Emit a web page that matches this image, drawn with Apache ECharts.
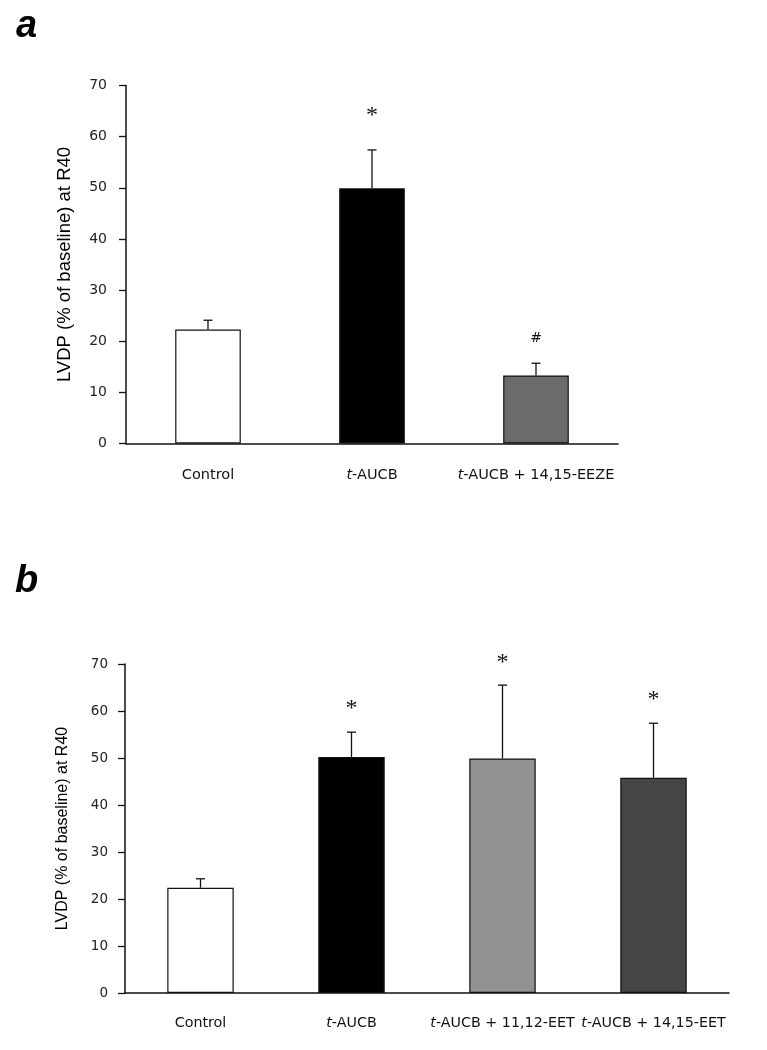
<!DOCTYPE html>
<html>
<head>
<meta charset="utf-8">
<script src="https://cdn.jsdelivr.net/npm/echarts@6/dist/echarts.min.js"></script>
<style>
html,body{margin:0;padding:0;background:#fff;}
#chart{width:767px;height:1050px;}
</style>
</head>
<body>
<div id="chart"></div>
<script>
// ---------- Data ----------
const yTickStep = 10;
const yMin = 0;
const yMax = 70;

// Panel a
const catsA = ['Control', 't-AUCB', 't-AUCB + 14,15-EEZE'];
const meanA = [22.3, 49.9, 13.3];
const errA  = [1.8, 7.5, 2.4];
const sigA  = ['', '*', '#'];
const sigYA = [null, 64.8, 20.6];

// Panel b
const catsB = ['Control', 't-AUCB', 't-AUCB + 11,12-EET', 't-AUCB + 14,15-EET'];
const meanB = [22.4, 50.2, 49.9, 45.8];
const errB  = [1.9, 5.3, 15.6, 11.6];
const sigB  = ['', '*', '*', '*'];
const sigYB = [null, 61.4, 71.2, 63.3];

// ---------- Styles ----------
const colorsA = ['#ffffff', '#000000', '#6b6b6b'];
const colorsB = ['#ffffff', '#000000', '#929292', '#454545'];
const labelFont = 'DejaVu Sans';
const titleFont = 'Liberation Sans';

function catFormatter(v) {
  if (v.indexOf('t-') === 0) return '{i|t}{n|' + v.slice(1) + '}';
  return '{n|' + v + '}';
}
function richFor(size) {
  return {
    i: {fontFamily: labelFont, fontStyle: 'italic', fontSize: size, color: '#111'},
    n: {fontFamily: labelFont, fontSize: size, color: '#111'}
  };
}

function xAxisFor(gridIndex, cats, fontSize, margin) {
  return {
    type: 'category', gridIndex: gridIndex, data: cats,
    axisLine: {lineStyle: {color: '#111', width: 1.5}},
    axisTick: {show: false},
    axisLabel: {interval: 0, margin: margin, formatter: catFormatter, rich: richFor(fontSize)},
    splitLine: {show: false}
  };
}
function yAxisFor(gridIndex, fontSize, margin, nameSize, nameGap) {
  return {
    type: 'value', gridIndex: gridIndex, min: yMin, max: yMax, interval: yTickStep,
    name: 'LVDP (% of baseline) at R40', nameLocation: 'middle', nameGap: nameGap,
    nameTextStyle: {fontFamily: titleFont, fontSize: nameSize, color: '#000'},
    axisLine: {show: true, lineStyle: {color: '#111', width: 1.5}},
    axisTick: {show: true, inside: false, length: 7, lineStyle: {color: '#111', width: 1.3}},
    axisLabel: {fontFamily: labelFont, fontSize: fontSize, color: '#222', margin: margin},
    splitLine: {show: false}
  };
}

function barSeries(idx, means, colors, width) {
  return {
    type: 'bar', xAxisIndex: idx, yAxisIndex: idx, barWidth: width,
    data: means.map((v, i) => ({value: v, itemStyle: {color: colors[i], borderColor: '#111', borderWidth: 1.2}})),
    silent: true, animation: false
  };
}
function errSeries(idx, means, errs) {
  return {
    type: 'custom', xAxisIndex: idx, yAxisIndex: idx, animation: false, silent: true, z: 5,
    data: means.map((v, i) => [i, v, v + errs[i]]),
    renderItem: function (params, api) {
      const lo = api.coord([api.value(0), api.value(1)]);
      const hi = api.coord([api.value(0), api.value(2)]);
      const hw = 4.5;
      const st = {stroke: '#111', lineWidth: 1.3};
      return {type: 'group', children: [
        {type: 'line', shape: {x1: lo[0], y1: lo[1], x2: hi[0], y2: hi[1]}, style: st},
        {type: 'line', shape: {x1: hi[0] - hw, y1: hi[1], x2: hi[0] + hw, y2: hi[1]}, style: st}
      ]};
    }
  };
}
function sigSeries(idx, sigs, sigYs) {
  const items = [];
  sigs.forEach((s, i) => { if (s) items.push({value: [i, sigYs[i]], sym: s}); });
  return {
    type: 'custom', xAxisIndex: idx, yAxisIndex: idx, animation: false, silent: true, z: 6, clip: false,
    data: items.map(d => d.value),
    renderItem: function (params, api) {
      const p = api.coord([api.value(0), api.value(1)]);
      const s = items[params.dataIndex].sym;
      const isStar = s === '*';
      return {type: 'text', x: p[0], y: p[1] + (isStar ? 4 : 0), style: {
        text: s, textAlign: 'center', textVerticalAlign: 'middle',
        font: isStar ? '24px "Liberation Serif"' : '14px "DejaVu Sans"', fill: '#111'
      }};
    }
  };
}

const chart = echarts.init(document.getElementById('chart'), null, {renderer: 'canvas'});
chart.setOption({
  backgroundColor: '#ffffff',
  animation: false,
  grid: [
    {left: 126, top: 85.5, width: 492, height: 358},
    {left: 125, top: 664, width: 604, height: 329}
  ],
  graphic: [
    {type: 'text', left: 16, top: 8, style: {text: 'a', font: 'italic bold 38px "Liberation Sans"', fill: '#000'}},
    {type: 'text', left: 15, top: 563, style: {text: 'b', font: 'italic bold 38px "Liberation Sans"', fill: '#000'}}
  ],
  xAxis: [
    xAxisFor(0, catsA, 14.5, 24),
    xAxisFor(1, catsB, 14.3, 23)
  ],
  yAxis: [
    yAxisFor(0, 14, 19, 18.5, 52),
    yAxisFor(1, 13.5, 17, 16, 54)
  ],
  series: [
    barSeries(0, meanA, colorsA, '40%'),
    errSeries(0, meanA, errA),
    sigSeries(0, sigA, sigYA),
    barSeries(1, meanB, colorsB, '44%'),
    errSeries(1, meanB, errB),
    sigSeries(1, sigB, sigYB)
  ]
});
</script>
</body>
</html>
